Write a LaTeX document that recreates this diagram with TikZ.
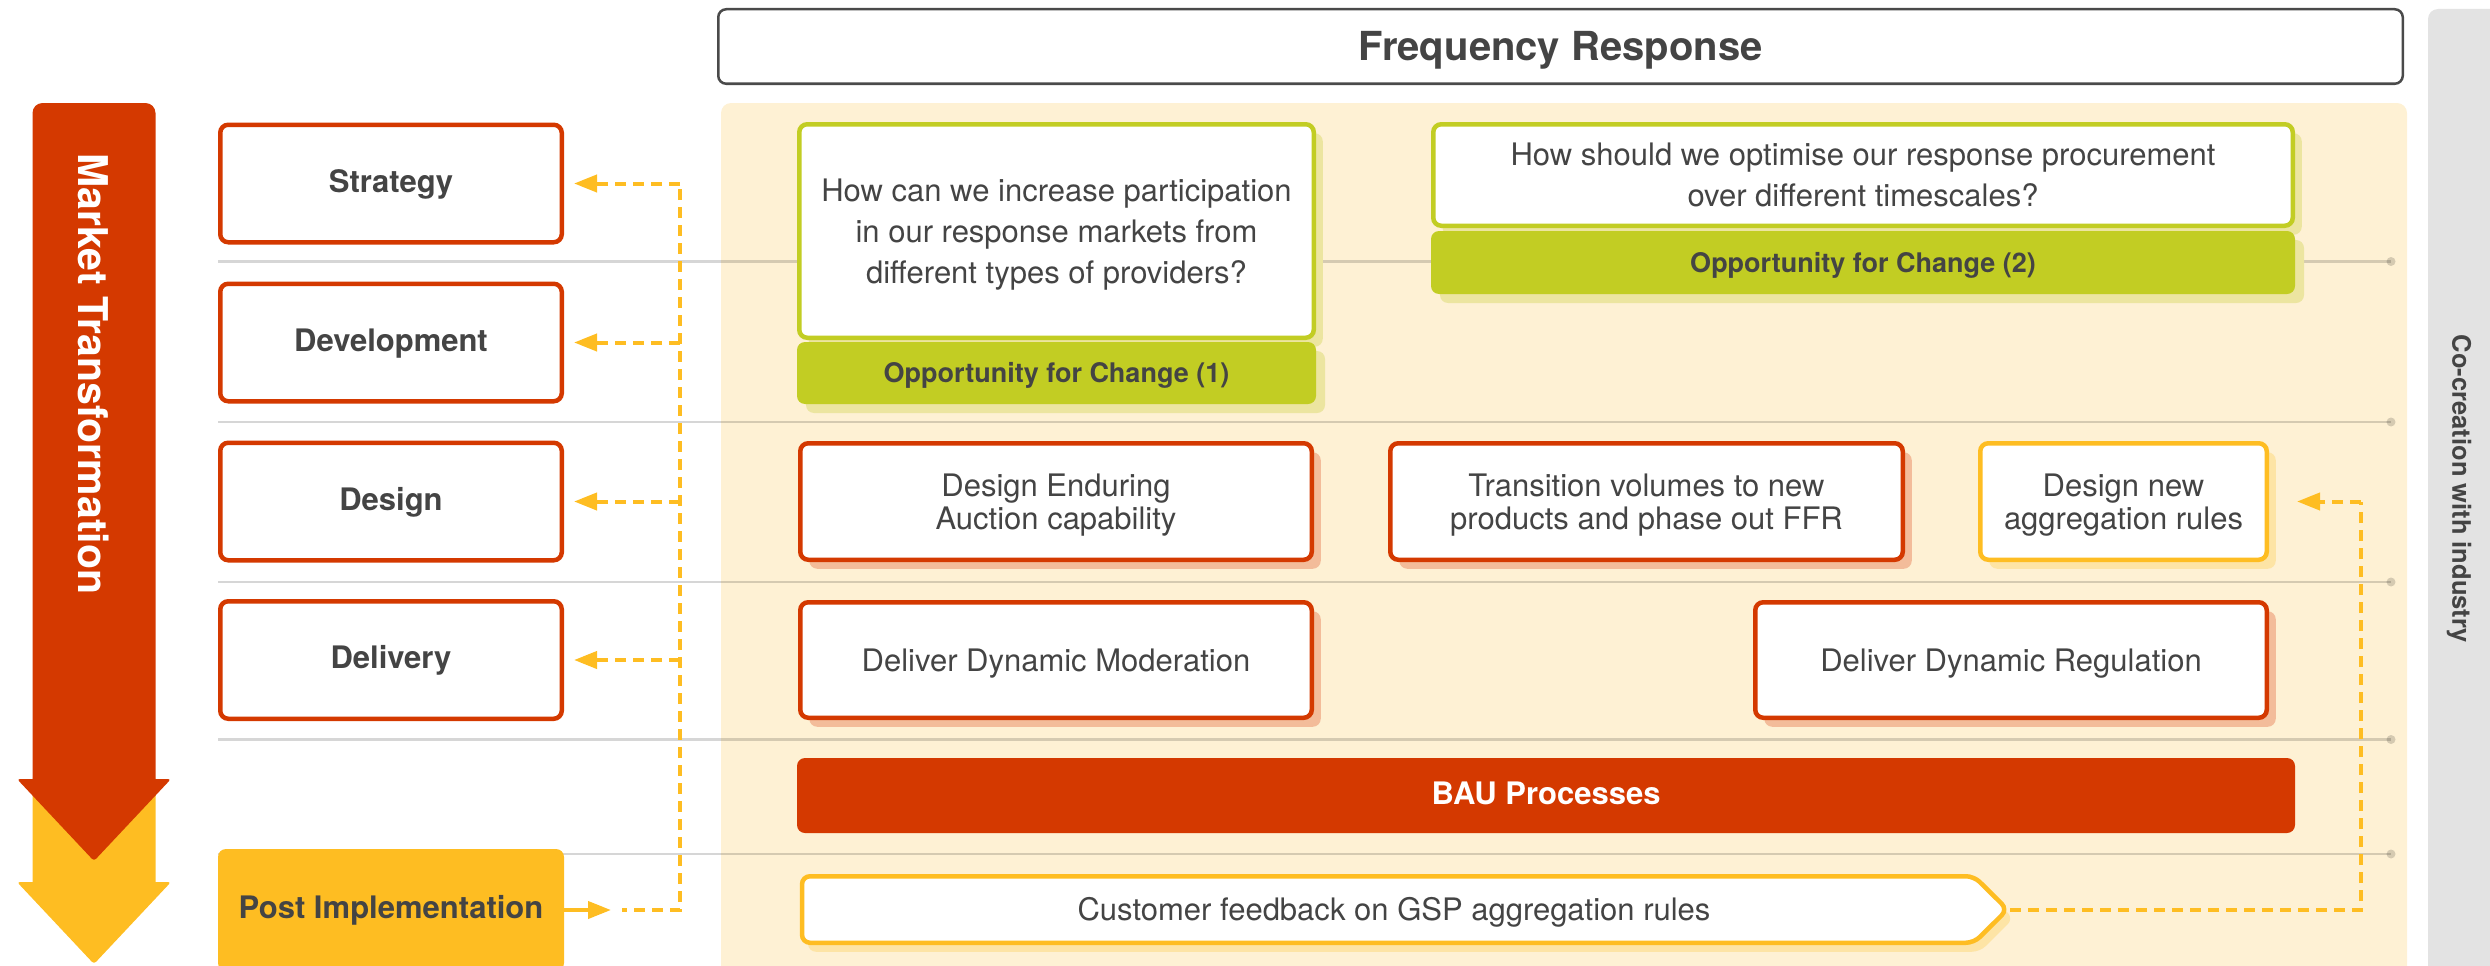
\documentclass[tikz,border=0pt]{standalone}
\usepackage{fontspec}
\setmainfont{TeX Gyre Heros}
\usetikzlibrary{arrows.meta,shadows}
\definecolor{mtred}{RGB}{212,57,0}
\definecolor{mtyellow}{RGB}{254,189,34}
\definecolor{mtgreen}{RGB}{194,205,35}
\definecolor{cream}{RGB}{254,241,212}
\definecolor{stripgray}{RGB}{227,227,227}
\definecolor{txt}{RGB}{68,68,68}
\definecolor{salmon}{RGB}{243,188,154}
\definecolor{greenshade}{RGB}{236,229,160}
\definecolor{yellowshade}{RGB}{253,228,165}
\definecolor{titlegray}{RGB}{74,74,74}
\begin{document}
\begin{tikzpicture}[x=1pt,y=-1pt,
  capsonly/.style={text height=#1,text depth=0pt},
  stageframe/.style={draw=mtred,line width=4.5pt,fill=white,rounded corners=8pt,text=txt,
    font=\bfseries\fontsize{31}{38}\selectfont,capsonly=17pt,inner sep=0pt,minimum width=341.5pt,minimum height=117.5pt},
  postframe/.style={fill=mtyellow,rounded corners=8pt,text=txt,
    font=\bfseries\fontsize{31}{38}\selectfont,capsonly=17pt,inner sep=0pt,minimum width=346pt,minimum height=122pt},
  redcard/.style={draw=mtred,line width=4.5pt,fill=white,rounded corners=8pt,text=txt,
    font=\fontsize{31}{33}\selectfont,align=center,inner sep=0pt,text depth=0pt,
    drop shadow={shadow xshift=9pt,shadow yshift=-9pt,fill=salmon,opacity=1}},
  yellowcard/.style={draw=mtyellow,line width=4.5pt,fill=white,rounded corners=8pt,text=txt,
    font=\fontsize{31}{33}\selectfont,align=center,inner sep=0pt,text depth=0pt,
    drop shadow={shadow xshift=9pt,shadow yshift=-9pt,fill=yellowshade,opacity=1}},
  qcard/.style={draw=mtgreen,line width=4.5pt,fill=white,rounded corners=8pt,text=txt,
    font=\fontsize{31}{41}\selectfont,align=center,inner sep=0pt,text depth=0pt,
    drop shadow={shadow xshift=9pt,shadow yshift=-9pt,fill=greenshade,opacity=1}},
  oppbar/.style={fill=mtgreen,rounded corners=8pt,text=txt,
    font=\bfseries\fontsize{27}{32}\selectfont,capsonly=19.4pt,inner sep=0pt,
    drop shadow={shadow xshift=9pt,shadow yshift=-9pt,fill=greenshade,opacity=1}},
  baubar/.style={fill=mtred,rounded corners=8pt,text=white,
    font=\bfseries\fontsize{31}{38}\selectfont,capsonly=17pt,inner sep=0pt},
  titleframe/.style={draw=titlegray,line width=2.5pt,fill=white,rounded corners=8pt,text=txt,
    font=\bfseries\fontsize{40}{48}\selectfont,capsonly=28.7pt,inner sep=0pt},
  gridline/.style={draw=black,draw opacity=0.16,line width=2.5pt},
  griddot/.style={fill=black,fill opacity=0.16},
  ydash/.style={draw=mtyellow,line width=4pt,dash pattern=on 11pt off 7pt},
  ysolid/.style={draw=mtyellow,line width=4pt},
  ytip/.style={-{Triangle[length=23pt,width=17pt]}}
]
\useasboundingbox (0,0) rectangle (2490,966);

% right strip
\fill[stripgray,rounded corners=10pt] (2428,9) rectangle (2520,1000);
\node[rotate=-90,text=txt,font=\bfseries\fontsize{25.5}{30}\selectfont] (cocreate) at (2459,489) {Co-creation with industry};

% cream panel
\fill[cream,rounded corners=10pt] (721,103) rectangle (2407,1000);

% title
\node[titleframe,minimum width=1684.5pt,minimum height=74.5pt] (title) at (1560.5,46.5) {Frequency Response};

% grid lines
\foreach \yy in {261.5,422,582,739.5,854}{
  \draw[gridline] (218,\yy) -- (2391,\yy);
  \fill[griddot] (2391,\yy) circle (4.5);
}

% Market transformation arrow
\fill[mtyellow,rounded corners=10pt] (32.5,770) rectangle (155.5,898);
\fill[mtyellow,rounded corners=3pt] (17,882) -- (171,882) -- (94,964) -- cycle;
\fill[mtred,rounded corners=10pt] (32.5,103) rectangle (155.5,795);
\fill[mtred,rounded corners=3pt] (17,779) -- (171,779) -- (94,861) -- cycle;
\node[rotate=-90,text=white,font=\bfseries\fontsize{41}{48}\selectfont] (mt) at (94,374) {Market Transformation};

% stage boxes
\node[stageframe] (strategy) at (391,183.5) {Strategy};
\node[stageframe] (development) at (391,342.5) {Development};
\node[stageframe] (design) at (391,501.5) {Design};
\node[stageframe] (delivery) at (391,660) {Delivery};
\node[postframe] (post) at (391,910) {Post Implementation};

% opportunity questions
\node[qcard,minimum width=514.5pt,minimum height=213.5pt] (q1) at (1056.5,231)
  {How can we increase participation\\in our response markets from\\different types of providers?};
\node[oppbar,minimum width=519pt,minimum height=62pt] (opp1) at (1056.5,373) {Opportunity for Change (1)};
\node[qcard,minimum width=859.5pt,minimum height=101.5pt] (q2) at (1863,175)
  {How should we optimise our response procurement\\over different timescales?};
\node[oppbar,minimum width=864pt,minimum height=63pt] (opp2) at (1863,262.5) {Opportunity for Change (2)};

% design row
\node[redcard,minimum width=511.5pt,minimum height=116.5pt] (dea) at (1056,501.5) {Design Enduring\\Auction capability};
\node[redcard,minimum width=512.5pt,minimum height=116.5pt] (tv) at (1646.5,501.5) {Transition volumes to new\\products and phase out FFR};
\node[yellowcard,minimum width=286.5pt,minimum height=116.5pt] (dna) at (2123.5,501.5) {Design new\\aggregation rules};

% delivery row
\node[redcard,minimum width=511.5pt,minimum height=115.5pt] (ddm) at (1056,660) {Deliver Dynamic Moderation};
\node[redcard,minimum width=511.5pt,minimum height=115.5pt] (ddr) at (2011,660) {Deliver Dynamic Regulation};

% BAU
\node[baubar,minimum width=1498pt,minimum height=75pt] (bau) at (1546,795.5) {BAU Processes};

% customer feedback
\fill[yellowshade,rounded corners=8pt,shift={(6,9)}] (802,876.25) -- (1974,876.25) -- (2007.5,909.5) -- (1974,942.75) -- (802,942.75) -- cycle;
\draw[mtyellow,line width=4.5pt,fill=white,rounded corners=8pt] (802,876.25) -- (1974,876.25) -- (2007.5,909.5) -- (1974,942.75) -- (802,942.75) -- cycle;
\node[text=txt,font=\fontsize{31}{33}\selectfont,capsonly=22.3pt] (cf) at (1394,909.5) {Customer feedback on GSP aggregation rules};
\coordinate (cftip) at (2010,910);

% left feedback connector
\coordinate (ptip) at (611,910);
\coordinate (pd) at (622,910);
\coordinate (vb) at (680,910);
\draw[ysolid,ytip] (post.east) -- (ptip);
\draw[ydash,dash phase=6pt] (pd) -- (vb) -- (strategy.east -| vb);
\foreach \n in {strategy,development,design,delivery}{
  \draw[ydash,ytip,shorten >=10pt] (\n.east -| vb) -- (\n.east);
}

% right feedback connector
\coordinate (vr) at (2361,910);
\draw[ydash] (cftip) -- (vr) -- (dna.east -| vr);
\draw[ydash,ytip,shorten >=28pt] (dna.east -| vr) -- (dna.east);
\end{tikzpicture}
\end{document}
